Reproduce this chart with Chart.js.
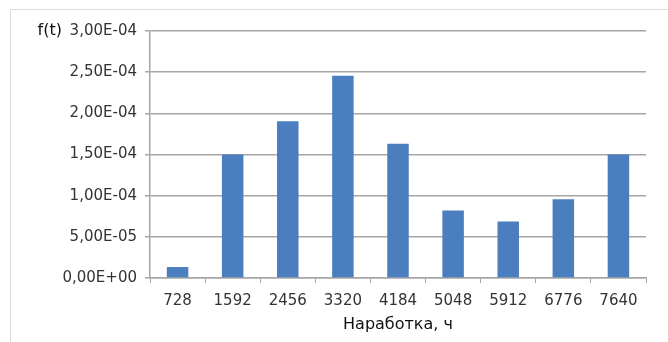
<!DOCTYPE html>
<html>
<head>
<meta charset="utf-8">
<script src="https://cdn.jsdelivr.net/npm/chart.js@4/dist/chart.umd.min.js"></script>
<style>
    body { margin: 0; background: #fff; }
    #wrap { position: relative; width: 668px; height: 342px; }
</style>
</head>
<body>
<div id="wrap"><canvas id="densityChart"></canvas></div>
<script>
// Dữ liệu
var hours = ['728', '1592', '2456', '3320', '4184', '5048', '5912', '6776', '7640'];
var density = [1.33e-5, 1.5e-4, 1.905e-4, 2.455e-4, 1.63e-4, 8.2e-5, 6.85e-5, 9.55e-5, 1.5e-4];
var yTitle = 'f(t)';
var xTitle = 'Наработка, ч';

var tickFont = { family: 'DejaVu Sans', size: 15 };

// Định dạng số kiểu Excel: 1,50E-04
function excelSci(v) {
    if (Math.abs(v) < 1e-12) return '0,00E+00';
    var s = v.toExponential(2).split('e');
    var exp = parseInt(s[1], 10);
    var sign = exp < 0 ? '-' : '+';
    var e = Math.abs(exp);
    return s[0].replace('.', ',') + 'E' + sign + (e < 10 ? '0' + e : e);
}

// Khung và nhãn f(t)
var extras = {
    id: 'extras',
    beforeDraw: function (chart) {
        var ctx = chart.ctx;
        ctx.save();
        ctx.strokeStyle = '#dcdcdc';
        ctx.lineWidth = 1;
        ctx.beginPath();
        ctx.moveTo(10.5, 342);
        ctx.lineTo(10.5, 9.5);
        ctx.lineTo(668, 9.5);
        ctx.stroke();
        ctx.restore();
    },
    afterDraw: function (chart) {
        var ctx = chart.ctx;
        var y = chart.scales.y.getPixelForValue(3e-4);
        ctx.save();
        ctx.font = '16px "DejaVu Sans"';
        ctx.fillStyle = '#111';
        ctx.textAlign = 'right';
        ctx.textBaseline = 'middle';
        ctx.fillText(yTitle, 62, y);
        ctx.restore();
    }
};

var densityChart = new Chart(document.getElementById('densityChart'), {
    type: 'bar',
    data: {
        labels: hours,
        datasets: [{
            data: density,
            backgroundColor: '#4a7ebf',
            categoryPercentage: 1,
            barPercentage: 0.39
        }]
    },
    options: {
        responsive: true,
        maintainAspectRatio: false,
        animation: false,
        layout: { padding: { top: 31, right: 22, left: 0, bottom: 0 } },
        plugins: {
            legend: { display: false },
            tooltip: { enabled: false }
        },
        scales: {
            x: {
                grid: {
                    offset: true,
                    drawOnChartArea: false,
                    drawTicks: true,
                    tickLength: 5,
                    color: '#a6a6a6'
                },
                border: { color: '#a6a6a6', width: 1.5 },
                ticks: { color: '#333', font: tickFont, padding: 9, maxRotation: 0 },
                title: {
                    display: true,
                    text: xTitle,
                    color: '#111',
                    font: { family: 'DejaVu Sans', size: 16 },
                    padding: { top: 0, bottom: 8 }
                },
                afterFit: function (s) { s.height = 64; }
            },
            y: {
                min: 0,
                max: 3e-4,
                grid: { color: '#a6a6a6', lineWidth: 1.5, tickLength: 5 },
                border: { color: '#a6a6a6', width: 1.5 },
                ticks: {
                    stepSize: 5e-5,
                    color: '#333',
                    font: tickFont,
                    padding: 8,
                    callback: function (v) { return excelSci(v); }
                },
                afterFit: function (s) { s.width = 150; }
            }
        }
    },
    plugins: [extras]
});
</script>
</body>
</html>
